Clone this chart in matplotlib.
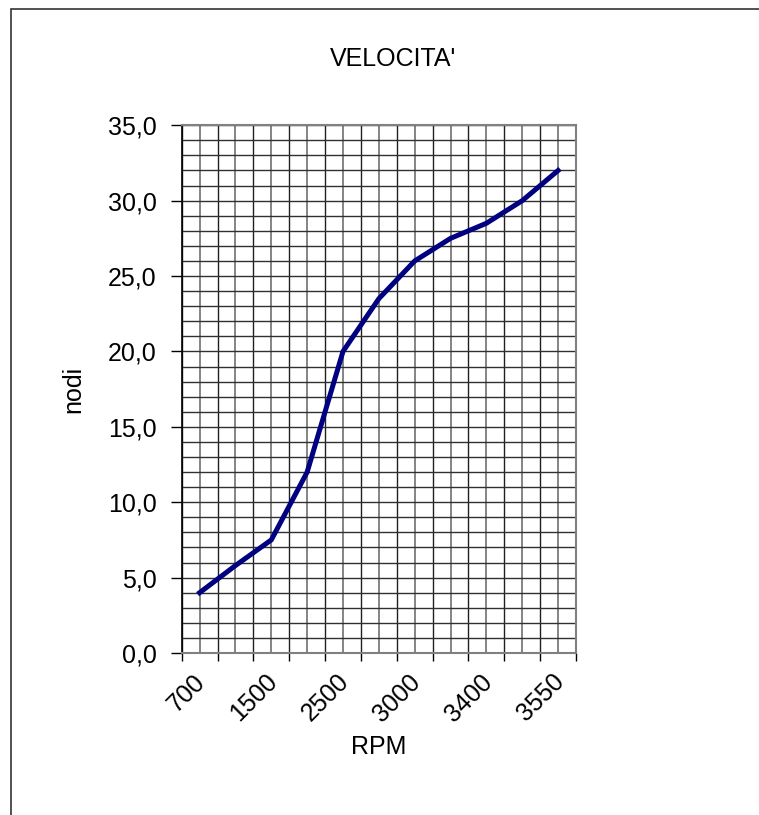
import matplotlib
matplotlib.use('Agg')
import matplotlib.pyplot as plt
import numpy as np
from matplotlib.patches import Rectangle
from matplotlib.ticker import FuncFormatter, MultipleLocator
from matplotlib.transforms import offset_copy

plt.rcParams['font.family'] = ['Liberation Sans', 'DejaVu Sans']

# velocita' (nodi) per regime motore, una categoria ogni punto
speed = [4.0, 5.8, 7.5, 12.0, 20.0, 23.5, 26.0, 27.5, 28.5, 30.0, 32.0]
# etichette visibili sull'asse (una categoria su due)
rpm_labels = ['700', '1500', '2500', '3000', '3400', '3550']

n = len(speed)
x = np.arange(n)

fig = plt.figure(figsize=(7.59, 8.15), dpi=100)
ax = fig.add_axes([0.2394, 0.1988, 0.5195, 0.6475])

# bordo del grafico (tagliato a destra e in basso)
fig.patches.append(Rectangle((11 / 759, -0.1), 1.2, 1.1 - 9 / 815,
                             transform=fig.transFigure, fill=False,
                             edgecolor='#333333', lw=1.2))

ax.set_xlim(-0.5, n - 0.5)
ax.set_ylim(0, 35)

# griglia
for gx in np.arange(-0.5, n, 1.0):
    ax.axvline(gx, color='#202020', lw=1.0, zorder=1)
for gx in x:
    ax.axvline(gx, color='#707070', lw=1.2, zorder=1)
for gy in range(0, 36):
    ax.axhline(gy, color='#303030', lw=1.0, zorder=1)

ax.plot(x, speed, color='#000080', lw=3.6, zorder=3, solid_joinstyle='round')

# tick
ax.set_xticks(np.arange(-0.5, n, 1.0))
ax.set_xticklabels([])
ax.tick_params(axis='x', which='major', direction='out', length=6, width=1, color='black')

# etichette ruotate: estremo destro sulla categoria
lab_tr = offset_copy(ax.get_xaxis_transform(), fig=fig, x=2, y=-25, units='dots')
for xi, lab in zip(x[::2], rpm_labels):
    ax.text(xi, 0, lab, transform=lab_tr, rotation=45, rotation_mode='anchor',
            ha='right', va='center', fontsize=18)

ax.yaxis.set_major_locator(MultipleLocator(5))
ax.yaxis.set_major_formatter(FuncFormatter(lambda v, p: f'{v:.1f}'.replace('.', ',')))
ax.tick_params(axis='y', direction='out', length=8, width=1, pad=10, labelsize=18)

for s in ['top', 'right']:
    ax.spines[s].set_color('#808080')
    ax.spines[s].set_linewidth(1.5)
ax.spines['left'].set_color('black')
ax.spines['bottom'].set_color('#808080')
ax.spines['left'].set_linewidth(1.2)
ax.spines['bottom'].set_linewidth(1.5)

ax.set_ylabel('nodi', fontsize=18)
ax.yaxis.set_label_coords(-0.245, 0.5)
ax.set_xlabel('RPM', fontsize=18)
ax.xaxis.set_label_coords(0.5, -0.155)

fig.text(393 / 759, 1 - 59 / 815, "VELOCITA'", ha='center', va='center', fontsize=18)

fig.savefig('out.png', dpi=100)
